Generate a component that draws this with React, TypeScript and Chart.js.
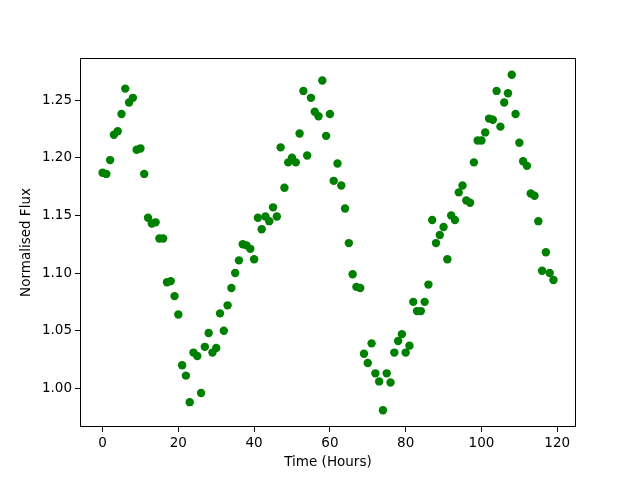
import React, { useEffect, useRef } from "react";
import { Chart, registerables } from "chart.js";

Chart.register(...registerables);

const hours: number[] = Array.from({ length: 120 }, (_, i) => i);
const flux: number[] = [
  1.187, 1.186, 1.198, 1.220, 1.223, 1.238, 1.260, 1.248, 1.252, 1.207,
  1.208, 1.186, 1.148, 1.143, 1.144, 1.130, 1.130, 1.092, 1.093, 1.080,
  1.064, 1.020, 1.011, 0.988, 1.031, 1.028, 0.996, 1.036, 1.048, 1.031,
  1.035, 1.065, 1.050, 1.072, 1.087, 1.100, 1.111, 1.125, 1.124, 1.121,
  1.112, 1.148, 1.138, 1.149, 1.145, 1.157, 1.149, 1.209, 1.174, 1.196,
  1.200, 1.196, 1.221, 1.258, 1.202, 1.252, 1.240, 1.236, 1.267, 1.219,
  1.238, 1.180, 1.195, 1.176, 1.156, 1.126, 1.099, 1.088, 1.087, 1.030,
  1.022, 1.039, 1.013, 1.006, 0.981, 1.013, 1.005, 1.031, 1.041, 1.047,
  1.031, 1.037, 1.075, 1.067, 1.067, 1.075, 1.090, 1.146, 1.126, 1.133,
  1.140, 1.112, 1.150, 1.146, 1.170, 1.176, 1.163, 1.161, 1.196, 1.215,
  1.215, 1.222, 1.234, 1.233, 1.258, 1.227, 1.248, 1.256, 1.272, 1.238,
  1.213, 1.197, 1.193, 1.169, 1.167, 1.145, 1.102, 1.118, 1.100, 1.094,
];
const xTicks: number[] = [0, 20, 40, 60, 80, 100, 120];
const yTicks: number[] = [1.0, 1.05, 1.1, 1.15, 1.2, 1.25];

const FONT = "'DejaVu Sans', sans-serif";
const FS = 13.5;

const frame = {
  id: "frame",
  afterDatasetsDraw(chart: any) {
    const { ctx, chartArea } = chart;
    ctx.save();
    ctx.strokeStyle = "#000";
    ctx.lineWidth = 1;
    ctx.strokeRect(
      Math.round(chartArea.left) + 0.5,
      Math.round(chartArea.top) + 0.5,
      Math.round(chartArea.right - chartArea.left) - 1,
      Math.round(chartArea.bottom - chartArea.top) - 1
    );
    ctx.restore();
  },
};

export default function App() {
  const ref = useRef<HTMLCanvasElement | null>(null);
  useEffect(() => {
    if (!ref.current) return;
    const xmin = -5.95, xmax = 124.95;
    const lo = Math.min(...flux), hi = Math.max(...flux);
    const m = (hi - lo) * 0.05;
    const chart = new Chart(ref.current, {
      type: "scatter",
      data: {
        datasets: [
          {
            data: hours.map((h, i) => ({ x: h, y: flux[i] })),
            backgroundColor: "#008000",
            borderColor: "#008000",
            pointRadius: 4.2,
            pointHoverRadius: 4.2,
            borderWidth: 0,
          },
        ],
      },
      options: {
        animation: false,
        responsive: false,
        events: [],
        layout: { padding: { top: 58, right: 64, left: 0, bottom: 0 } },
        plugins: { legend: { display: false }, tooltip: { enabled: false } },
        scales: {
          x: {
            type: "linear",
            min: xmin,
            max: xmax,
            afterBuildTicks: (s: any) => {
              s.ticks = xTicks.map((v) => ({ value: v }));
            },
            afterFit: (s: any) => {
              s.height = 53;
            },
            grid: { drawOnChartArea: false, drawTicks: true, tickLength: 5, color: "#000", tickWidth: 1 },
            border: { display: false },
            ticks: { color: "#000", font: { family: FONT, size: FS }, padding: 3, maxRotation: 0, autoSkip: false, callback: (v: any) => String(v) },
            title: { display: true, text: "Time (Hours)", color: "#000", font: { family: FONT, size: FS }, padding: { top: 0, bottom: 9 } },
          },
          y: {
            type: "linear",
            min: lo - m,
            max: hi + m,
            afterBuildTicks: (s: any) => {
              s.ticks = yTicks.map((v) => ({ value: v }));
            },
            afterFit: (s: any) => {
              s.width = 80;
            },
            grid: { drawOnChartArea: false, drawTicks: true, tickLength: 5, color: "#000", tickWidth: 1 },
            border: { display: false },
            ticks: { color: "#000", font: { family: FONT, size: FS }, padding: 3, autoSkip: false, callback: (v: any) => Number(v).toFixed(2) },
            title: { display: true, text: "Normalised Flux", color: "#000", font: { family: FONT, size: FS }, padding: { top: 18, bottom: 0 } },
          },
        },
      },
      plugins: [frame],
    });
    return () => chart.destroy();
  }, []);
  return (
    <div style={{ position: "fixed", left: 0, top: 0, width: 640, height: 480, background: "#fff" }}>
      <canvas ref={ref} width={640} height={480} style={{ width: 640, height: 480 }} />
    </div>
  );
}
